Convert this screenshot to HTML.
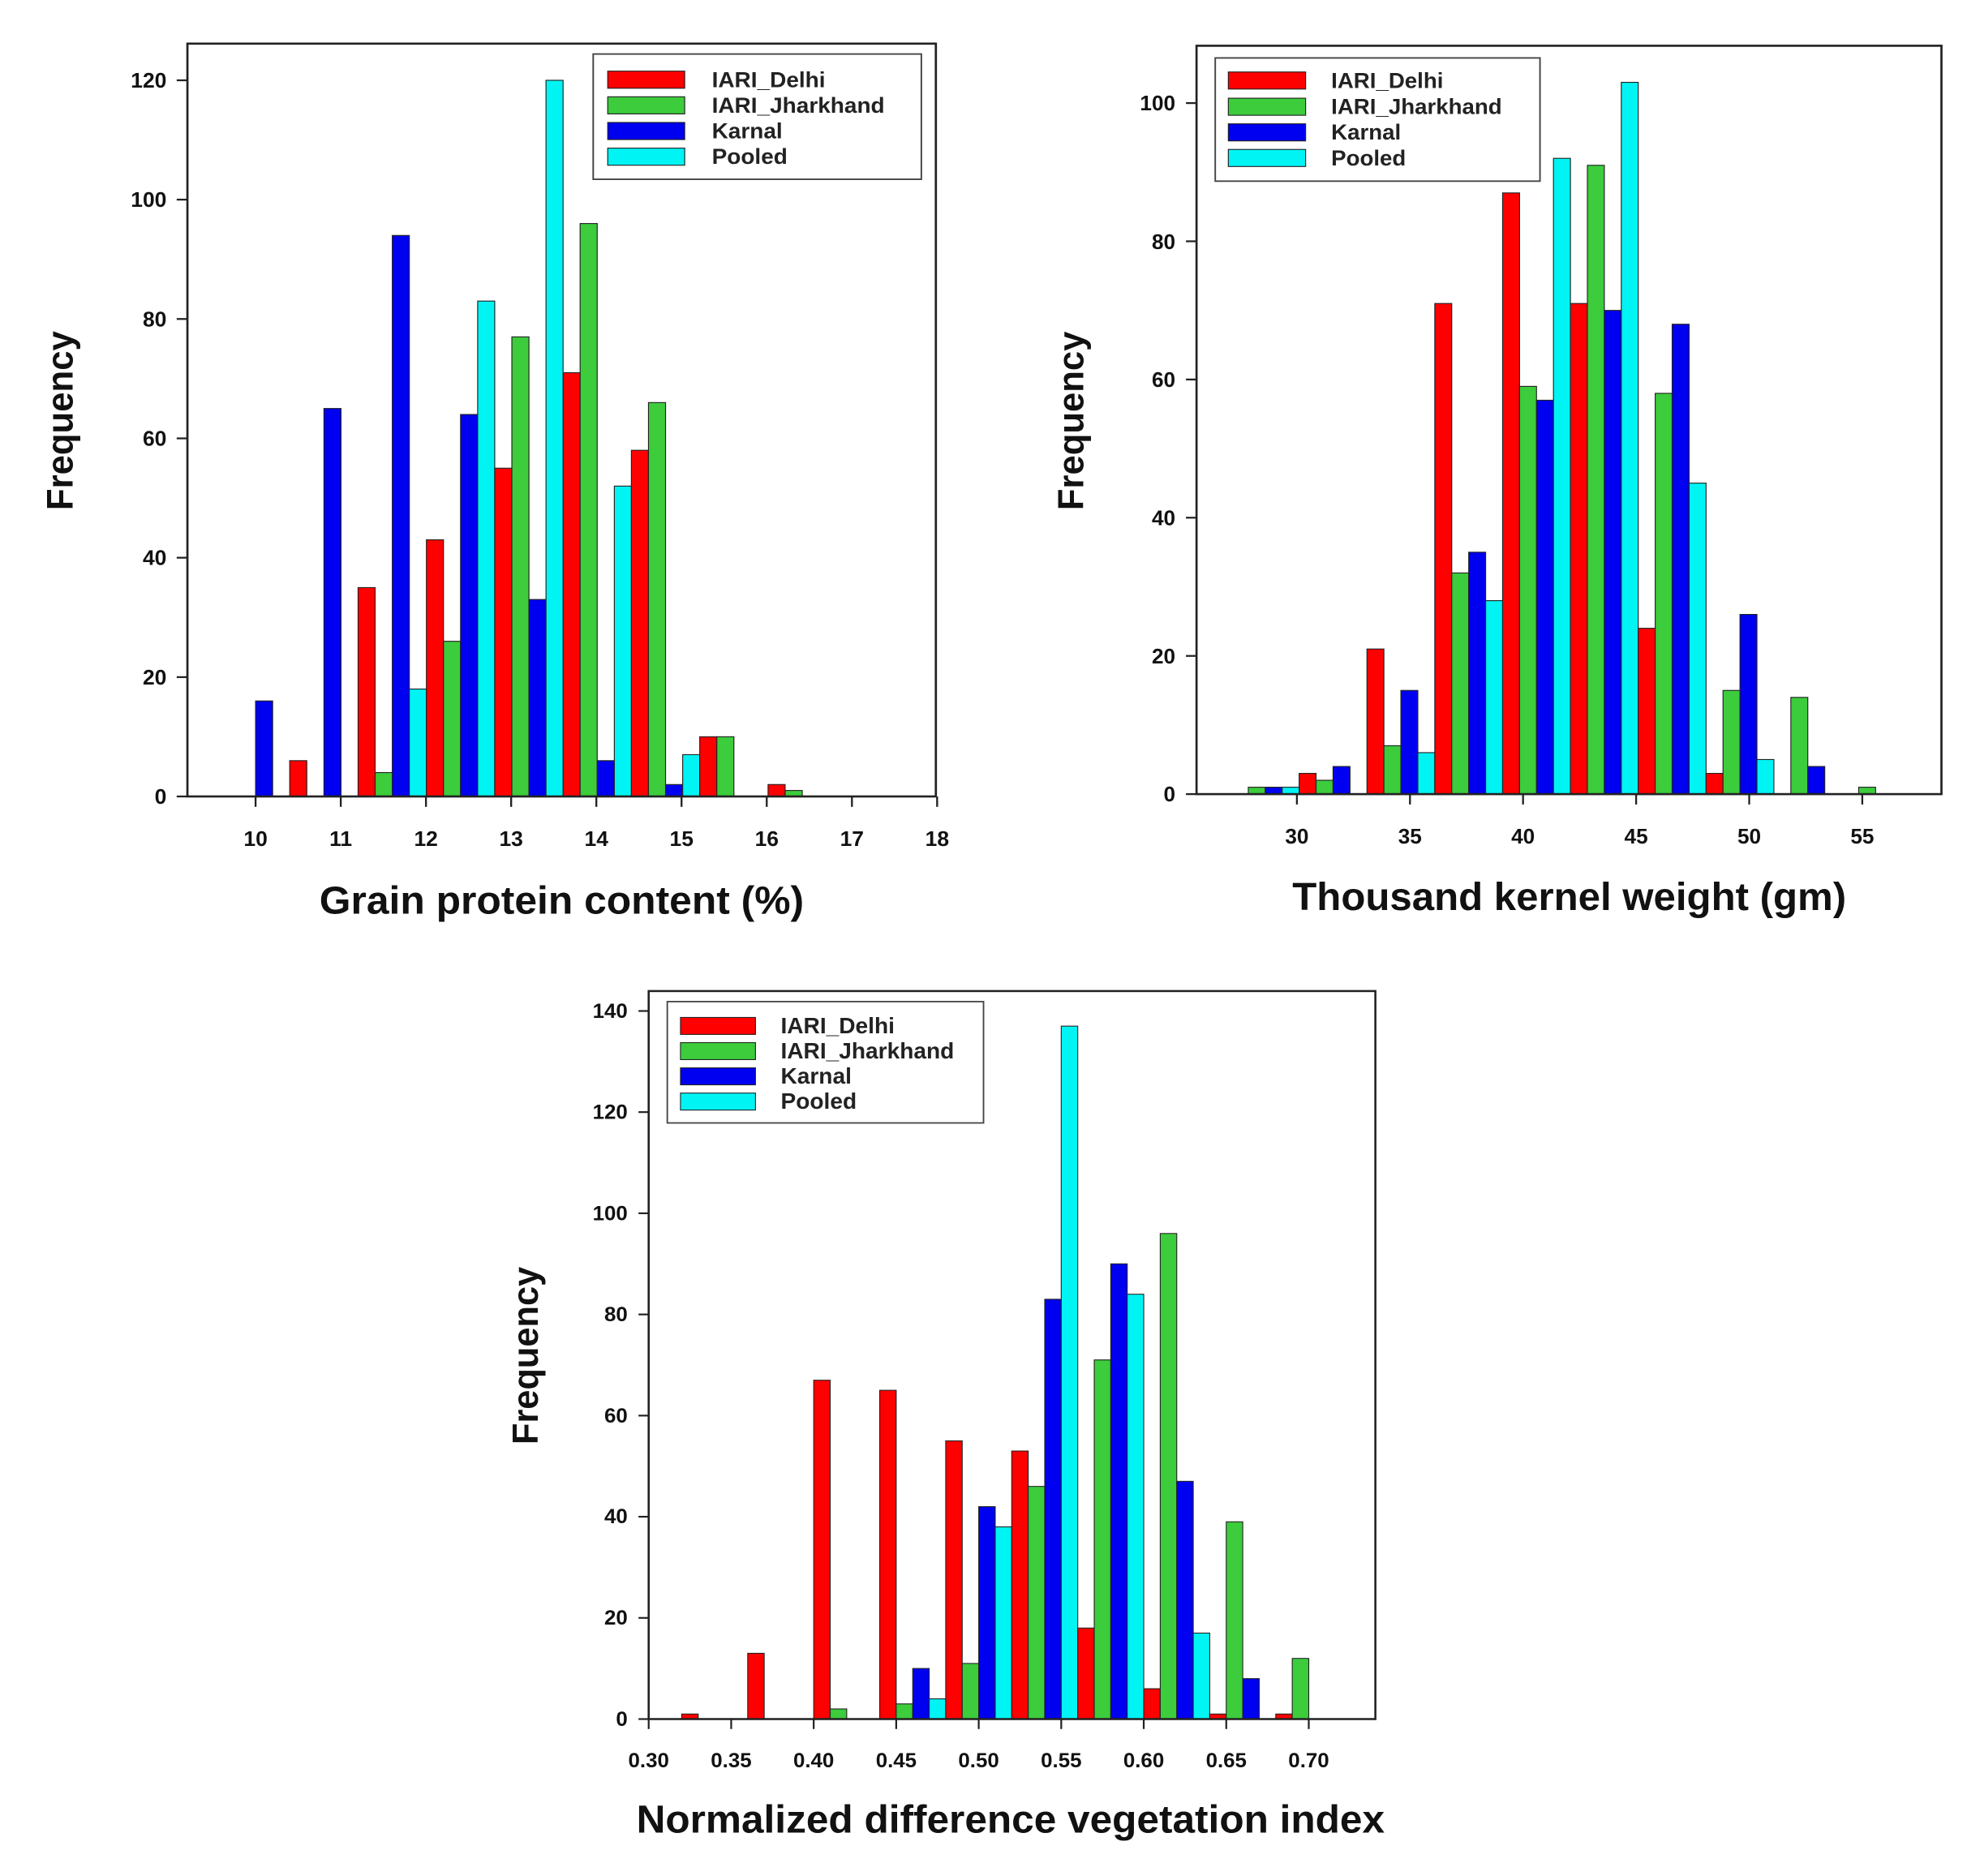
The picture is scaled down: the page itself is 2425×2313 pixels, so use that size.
<!DOCTYPE html>
<html><head><meta charset="utf-8"><style>
html,body{margin:0;padding:0;background:#fff}
svg{display:block}
text{font-family:"Liberation Sans",Arial,sans-serif;font-weight:bold;fill:#111}
.r{fill:#ff0000;stroke:#222;stroke-width:1.5}
.g{fill:#3ccc3c;stroke:#222;stroke-width:1.5}
.b{fill:#0000f0;stroke:#222;stroke-width:1.5}
.c{fill:#00f4f4;stroke:#222;stroke-width:1.5}
.ax{fill:none;stroke:#222;stroke-width:3.5}
.tk{stroke:#222;stroke-width:3}
.tl{font-size:34px}
.lg{font-size:36px;font-weight:bold;fill:#222}
.ttl{font-size:58px}
.xt{font-size:64px}
</style></head><body>
<svg width="2425" height="2313" viewBox="0 0 2425 2313" xmlns="http://www.w3.org/2000/svg">
<rect width="2425" height="2313" fill="#fff"/>

<!-- Chart 1 -->
<g transform="translate(0,-1.2) scale(0.778,0.7534)">
<rect class="b" x="405" y="1148.7" width="27.07" height="156.3"/>
<rect class="r" x="459.1" y="1246.4" width="27.07" height="58.6"/>
<rect class="b" x="513.3" y="670.1" width="27.07" height="634.9"/>
<rect class="r" x="567.4" y="963.2" width="27.07" height="341.8"/>
<rect class="g" x="594.5" y="1265.9" width="27.07" height="39.1"/>
<rect class="b" x="621.6" y="386.9" width="27.07" height="918.1"/>
<rect class="c" x="648.6" y="1129.2" width="27.07" height="175.8"/>
<rect class="r" x="675.7" y="885" width="27.07" height="420"/>
<rect class="g" x="702.8" y="1051.1" width="27.07" height="253.9"/>
<rect class="b" x="729.8" y="679.9" width="27.07" height="625.1"/>
<rect class="c" x="756.9" y="494.3" width="27.07" height="810.7"/>
<rect class="r" x="784" y="767.8" width="27.07" height="537.2"/>
<rect class="g" x="811.1" y="552.9" width="27.07" height="752.1"/>
<rect class="b" x="838.1" y="982.7" width="27.07" height="322.3"/>
<rect class="c" x="865.2" y="133" width="27.07" height="1172"/>
<rect class="r" x="892.3" y="611.5" width="27.07" height="693.5"/>
<rect class="g" x="919.3" y="367.4" width="27.07" height="937.6"/>
<rect class="b" x="946.4" y="1246.4" width="27.07" height="58.6"/>
<rect class="c" x="973.5" y="797.1" width="27.07" height="507.9"/>
<rect class="r" x="1000.5" y="738.5" width="27.07" height="566.5"/>
<rect class="g" x="1027.6" y="660.4" width="27.07" height="644.6"/>
<rect class="b" x="1054.7" y="1285.5" width="27.07" height="19.5"/>
<rect class="c" x="1081.8" y="1236.6" width="27.07" height="68.4"/>
<rect class="r" x="1108.8" y="1207.3" width="27.07" height="97.7"/>
<rect class="g" x="1135.9" y="1207.3" width="27.07" height="97.7"/>
<rect class="r" x="1217.1" y="1285.5" width="27.07" height="19.5"/>
<rect class="g" x="1244.2" y="1295.2" width="27.07" height="9.8"/>
<rect class="ax" x="297" y="73" width="1186" height="1232"/>
<g class="tk">
<line x1="280" y1="1305" x2="297" y2="1305"/><line x1="280" y1="1109.7" x2="297" y2="1109.7"/><line x1="280" y1="914.3" x2="297" y2="914.3"/><line x1="280" y1="719" x2="297" y2="719"/><line x1="280" y1="523.6" x2="297" y2="523.6"/><line x1="280" y1="328.3" x2="297" y2="328.3"/><line x1="280" y1="133" x2="297" y2="133"/>
<line x1="405" y1="1305" x2="405" y2="1322"/><line x1="540" y1="1305" x2="540" y2="1322"/><line x1="675" y1="1305" x2="675" y2="1322"/><line x1="810" y1="1305" x2="810" y2="1322"/><line x1="945" y1="1305" x2="945" y2="1322"/><line x1="1080" y1="1305" x2="1080" y2="1322"/><line x1="1215" y1="1305" x2="1215" y2="1322"/><line x1="1350" y1="1305" x2="1350" y2="1322"/><line x1="1485" y1="1305" x2="1485" y2="1322"/>
</g>
<g class="tl" text-anchor="end">
<text x="264" y="1317">0</text><text x="264" y="1122">20</text><text x="264" y="926">40</text><text x="264" y="731">60</text><text x="264" y="536">80</text><text x="264" y="340">100</text><text x="264" y="145">120</text>
</g>
<g class="tl" text-anchor="middle">
<text x="405" y="1386">10</text><text x="540" y="1386">11</text><text x="675" y="1386">12</text><text x="810" y="1386">13</text><text x="945" y="1386">14</text><text x="1080" y="1386">15</text><text x="1215" y="1386">16</text><text x="1350" y="1386">17</text><text x="1485" y="1386">18</text>
</g>
<text class="ttl xt" x="890" y="1497" text-anchor="middle">Grain protein content (%)</text>
<text class="ttl" transform="translate(115,690) rotate(-90)" text-anchor="middle">Frequency</text>
<rect x="940" y="90" width="520" height="205" fill="#fff" stroke="#444" stroke-width="2.5"/>
<rect class="r" x="963" y="118" width="122" height="28"/><rect class="g" x="963" y="160" width="122" height="28"/><rect class="b" x="963" y="202" width="122" height="28"/><rect class="c" x="963" y="244" width="122" height="28"/>
<text class="lg" x="1128" y="144">IARI_Delhi</text><text class="lg" x="1128" y="186">IARI_Jharkhand</text><text class="lg" x="1128" y="228">Karnal</text><text class="lg" x="1128" y="270">Pooled</text>
</g>

<!-- Chart 2 -->
<g transform="translate(1220,0) scale(0.7685,0.752)">
<rect class="g" x="415" y="1290.7" width="27.2" height="11.3"/>
<rect class="b" x="442.2" y="1290.7" width="27.2" height="11.3"/>
<rect class="c" x="469.4" y="1290.7" width="27.2" height="11.3"/>
<rect class="r" x="496.6" y="1268" width="27.2" height="34"/>
<rect class="g" x="523.8" y="1279.3" width="27.2" height="22.7"/>
<rect class="b" x="551" y="1256.7" width="27.2" height="45.3"/>
<rect class="r" x="605.4" y="1064.1" width="27.2" height="237.9"/>
<rect class="g" x="632.6" y="1222.7" width="27.2" height="79.3"/>
<rect class="b" x="659.8" y="1132" width="27.2" height="170"/>
<rect class="c" x="687" y="1234" width="27.2" height="68"/>
<rect class="r" x="714.2" y="497.6" width="27.2" height="804.4"/>
<rect class="g" x="741.4" y="939.4" width="27.2" height="362.6"/>
<rect class="b" x="768.6" y="905.4" width="27.2" height="396.6"/>
<rect class="c" x="795.8" y="984.8" width="27.2" height="317.2"/>
<rect class="r" x="823" y="316.3" width="27.2" height="985.7"/>
<rect class="g" x="850.2" y="633.5" width="27.2" height="668.5"/>
<rect class="b" x="877.4" y="656.2" width="27.2" height="645.8"/>
<rect class="c" x="904.6" y="259.6" width="27.2" height="1042.4"/>
<rect class="r" x="931.8" y="497.6" width="27.2" height="804.4"/>
<rect class="g" x="959" y="271" width="27.2" height="1031"/>
<rect class="b" x="986.2" y="508.9" width="27.2" height="793.1"/>
<rect class="c" x="1013.4" y="135" width="27.2" height="1167"/>
<rect class="r" x="1040.6" y="1030.1" width="27.2" height="271.9"/>
<rect class="g" x="1067.8" y="644.9" width="27.2" height="657.1"/>
<rect class="b" x="1095" y="531.6" width="27.2" height="770.4"/>
<rect class="c" x="1122.2" y="792.1" width="27.2" height="509.9"/>
<rect class="r" x="1149.4" y="1268" width="27.2" height="34"/>
<rect class="g" x="1176.6" y="1132" width="27.2" height="170"/>
<rect class="b" x="1203.8" y="1007.4" width="27.2" height="294.6"/>
<rect class="c" x="1231" y="1245.3" width="27.2" height="56.7"/>
<rect class="g" x="1285.4" y="1143.4" width="27.2" height="158.6"/>
<rect class="b" x="1312.6" y="1256.7" width="27.2" height="45.3"/>
<rect class="g" x="1394.2" y="1290.7" width="27.2" height="11.3"/>
<rect class="ax" x="332" y="75" width="1195" height="1227"/>
<g class="tk">
<line x1="315" y1="1302" x2="332" y2="1302"/><line x1="315" y1="1075.4" x2="332" y2="1075.4"/><line x1="315" y1="848.8" x2="332" y2="848.8"/><line x1="315" y1="622.2" x2="332" y2="622.2"/><line x1="315" y1="395.6" x2="332" y2="395.6"/><line x1="315" y1="169" x2="332" y2="169"/>
<line x1="493" y1="1302" x2="493" y2="1319"/><line x1="674.4" y1="1302" x2="674.4" y2="1319"/><line x1="855.8" y1="1302" x2="855.8" y2="1319"/><line x1="1037.2" y1="1302" x2="1037.2" y2="1319"/><line x1="1218.6" y1="1302" x2="1218.6" y2="1319"/><line x1="1400" y1="1302" x2="1400" y2="1319"/>
</g>
<g class="tl" text-anchor="end">
<text x="298" y="1314">0</text><text x="298" y="1088">20</text><text x="298" y="861">40</text><text x="298" y="634">60</text><text x="298" y="408">80</text><text x="298" y="181">100</text>
</g>
<g class="tl" text-anchor="middle">
<text x="493" y="1383">30</text><text x="674.4" y="1383">35</text><text x="855.8" y="1383">40</text><text x="1037.2" y="1383">45</text><text x="1218.6" y="1383">50</text><text x="1400" y="1383">55</text>
</g>
<text class="ttl xt" x="930" y="1492" text-anchor="middle">Thousand kernel weight (gm)</text>
<text class="ttl" transform="translate(150,690) rotate(-90)" text-anchor="middle">Frequency</text>
<rect x="362" y="95" width="521" height="202" fill="#fff" stroke="#444" stroke-width="2.5"/>
<rect class="r" x="383" y="118" width="124" height="28"/><rect class="g" x="383" y="161" width="124" height="28"/><rect class="b" x="383" y="203" width="124" height="28"/><rect class="c" x="383" y="245" width="124" height="28"/>
<text class="lg" x="548" y="144">IARI_Delhi</text><text class="lg" x="548" y="187">IARI_Jharkhand</text><text class="lg" x="548" y="229">Karnal</text><text class="lg" x="548" y="271">Pooled</text>
</g>

<!-- Chart 3 -->
<g transform="translate(580,1180) scale(0.7398,0.7227)">
<rect class="r" x="352" y="1291.4" width="27.5" height="8.6"/>
<rect class="r" x="462" y="1187.8" width="27.5" height="112.2"/>
<rect class="r" x="572" y="721.9" width="27.5" height="578.1"/>
<rect class="g" x="599.5" y="1282.7" width="27.5" height="17.3"/>
<rect class="r" x="682" y="739.1" width="27.5" height="560.9"/>
<rect class="g" x="709.5" y="1274.1" width="27.5" height="25.9"/>
<rect class="b" x="737" y="1213.7" width="27.5" height="86.3"/>
<rect class="c" x="764.5" y="1265.5" width="27.5" height="34.5"/>
<rect class="r" x="792" y="825.4" width="27.5" height="474.6"/>
<rect class="g" x="819.5" y="1205.1" width="27.5" height="94.9"/>
<rect class="b" x="847" y="937.6" width="27.5" height="362.4"/>
<rect class="c" x="874.5" y="972.1" width="27.5" height="327.9"/>
<rect class="r" x="902" y="842.7" width="27.5" height="457.3"/>
<rect class="g" x="929.5" y="903.1" width="27.5" height="396.9"/>
<rect class="b" x="957" y="583.8" width="27.5" height="716.2"/>
<rect class="c" x="984.5" y="117.8" width="27.5" height="1182.2"/>
<rect class="r" x="1012" y="1144.7" width="27.5" height="155.3"/>
<rect class="g" x="1039.5" y="687.3" width="27.5" height="612.7"/>
<rect class="b" x="1067" y="523.4" width="27.5" height="776.6"/>
<rect class="c" x="1094.5" y="575.2" width="27.5" height="724.8"/>
<rect class="r" x="1122" y="1248.2" width="27.5" height="51.8"/>
<rect class="g" x="1149.5" y="471.6" width="27.5" height="828.4"/>
<rect class="b" x="1177" y="894.4" width="27.5" height="405.6"/>
<rect class="c" x="1204.5" y="1153.3" width="27.5" height="146.7"/>
<rect class="r" x="1232" y="1291.4" width="27.5" height="8.6"/>
<rect class="g" x="1259.5" y="963.5" width="27.5" height="336.5"/>
<rect class="b" x="1287" y="1231" width="27.5" height="69"/>
<rect class="r" x="1342" y="1291.4" width="27.5" height="8.6"/>
<rect class="g" x="1369.5" y="1196.5" width="27.5" height="103.5"/>
<rect class="ax" x="297" y="58" width="1211" height="1242"/>
<g class="tk">
<line x1="280" y1="1300" x2="297" y2="1300"/><line x1="280" y1="1127.4" x2="297" y2="1127.4"/><line x1="280" y1="954.8" x2="297" y2="954.8"/><line x1="280" y1="782.3" x2="297" y2="782.3"/><line x1="280" y1="609.7" x2="297" y2="609.7"/><line x1="280" y1="437.1" x2="297" y2="437.1"/><line x1="280" y1="264.5" x2="297" y2="264.5"/><line x1="280" y1="92" x2="297" y2="92"/>
<line x1="297" y1="1300" x2="297" y2="1317"/><line x1="434.5" y1="1300" x2="434.5" y2="1317"/><line x1="572" y1="1300" x2="572" y2="1317"/><line x1="709.5" y1="1300" x2="709.5" y2="1317"/><line x1="847" y1="1300" x2="847" y2="1317"/><line x1="984.5" y1="1300" x2="984.5" y2="1317"/><line x1="1122" y1="1300" x2="1122" y2="1317"/><line x1="1259.5" y1="1300" x2="1259.5" y2="1317"/><line x1="1397" y1="1300" x2="1397" y2="1317"/>
</g>
<g class="tl" text-anchor="end" style="font-size:35px">
<text x="262" y="1312">0</text><text x="262" y="1139">20</text><text x="262" y="966">40</text><text x="262" y="794">60</text><text x="262" y="621">80</text><text x="262" y="449">100</text><text x="262" y="276">120</text><text x="262" y="104">140</text>
</g>
<g class="tl" text-anchor="middle" style="font-size:35px">
<text x="297" y="1382">0.30</text><text x="434.5" y="1382">0.35</text><text x="572" y="1382">0.40</text><text x="709.5" y="1382">0.45</text><text x="847" y="1382">0.50</text><text x="984.5" y="1382">0.55</text><text x="1122" y="1382">0.60</text><text x="1259.5" y="1382">0.65</text><text x="1397" y="1382">0.70</text>
</g>
<text class="ttl" x="900" y="1494" text-anchor="middle" style="font-size:67px">Normalized difference vegetation index</text>
<text class="ttl" transform="translate(112,680) rotate(-90)" text-anchor="middle" style="font-size:60px">Frequency</text>
<rect x="328" y="76" width="527" height="207" fill="#fff" stroke="#444" stroke-width="2.5"/>
<rect class="r" x="350" y="103" width="125" height="29"/><rect class="g" x="350" y="146" width="125" height="29"/><rect class="b" x="350" y="189" width="125" height="29"/><rect class="c" x="350" y="232" width="125" height="29"/>
<text class="lg" x="517" y="130" style="font-size:38px">IARI_Delhi</text><text class="lg" x="517" y="173" style="font-size:38px">IARI_Jharkhand</text><text class="lg" x="517" y="216" style="font-size:38px">Karnal</text><text class="lg" x="517" y="259" style="font-size:38px">Pooled</text>
</g>
</svg>
</body></html>
